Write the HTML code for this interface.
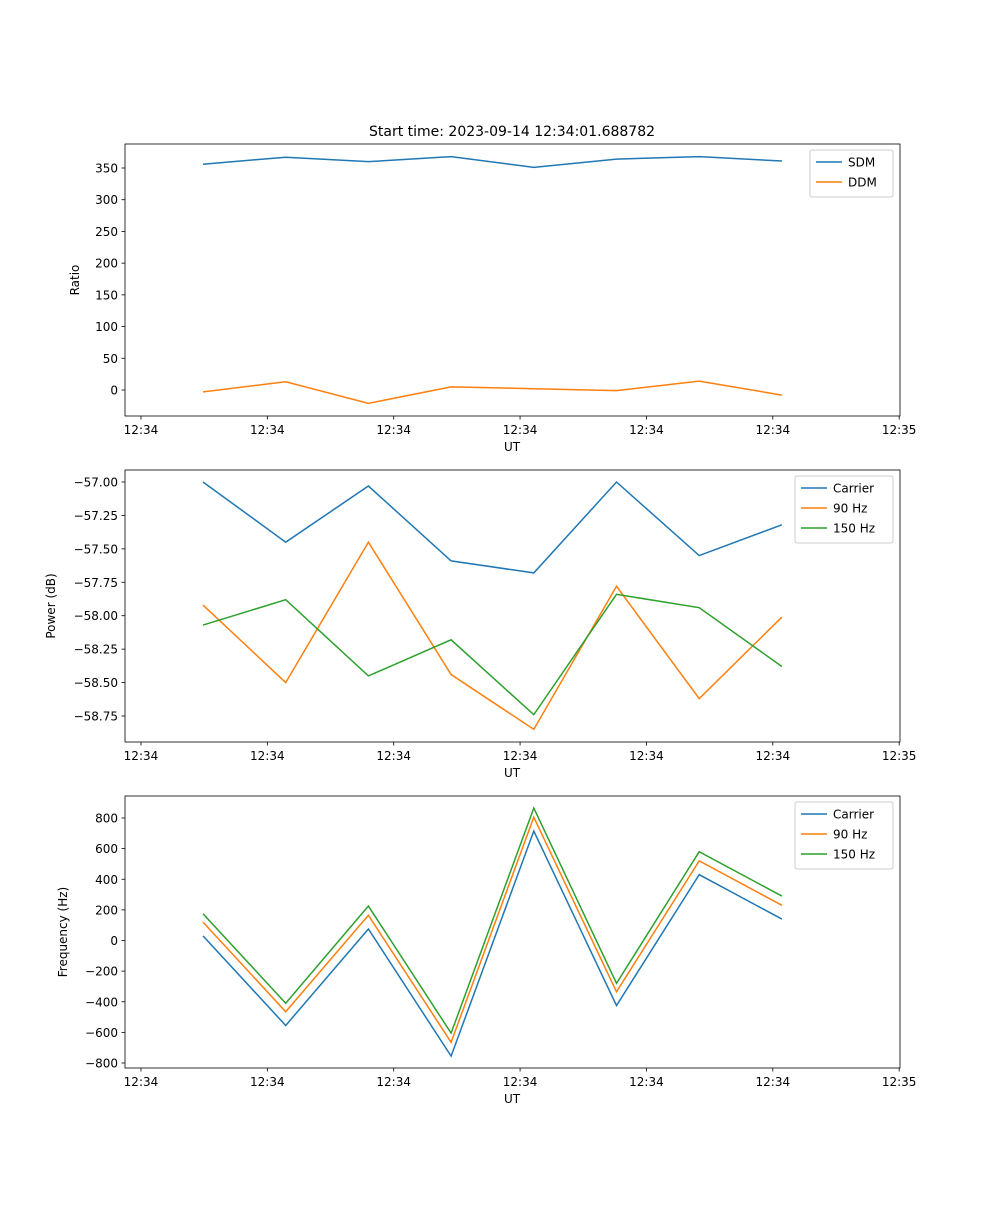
<!DOCTYPE html>
<html><head><meta charset="utf-8"><style>
body{margin:0;background:#fff;font-family:"Liberation Sans","DejaVu Sans",sans-serif}
svg text{font-family:"DejaVu Sans","Liberation Sans",sans-serif}
</style></head><body>
<svg id="fig" width="1000" height="1200" xmlns="http://www.w3.org/2000/svg">
<rect width="1000" height="1200" fill="#fff"/>
<text x="512" y="136" font-size="14" text-anchor="middle">Start time: 2023-09-14 12:34:01.688782</text>
</svg>
<script>
const xTickIdx=[-0.75,0.778,2.306,3.834,5.362,6.89,8.418];
const xTickLabels=["12:34","12:34","12:34","12:34","12:34","12:34","12:35"];
const sdm=[356,367,360,368,351,364,368,361];
const ddm=[-3,13,-21,5,2,-1,14,-8];
const pCarrier=[-57.00,-57.45,-57.03,-57.59,-57.68,-57.00,-57.55,-57.32];
const p90=[-57.92,-58.50,-57.45,-58.44,-58.85,-57.78,-58.62,-58.01];
const p150=[-58.07,-57.88,-58.45,-58.18,-58.74,-57.84,-57.94,-58.38];
const fCarrier=[30,-555,75,-755,715,-425,430,140];
const f90=[120,-465,165,-665,805,-335,520,230];
const f150=[175,-410,225,-605,865,-280,580,290];
const ratioTicks=[0,50,100,150,200,250,300,350];
const powerTicks=[-57.00,-57.25,-57.50,-57.75,-58.00,-58.25,-58.50,-58.75];
const freqTicks=[-800,-600,-400,-200,0,200,400,600,800];
const C=["#1f77b4","#ff7f0e","#2ca02c"];
const svg=document.getElementById('fig');
const NS="http://www.w3.org/2000/svg";
function mk(t,a,p){const e=document.createElementNS(NS,t);for(const k in a)e.setAttribute(k,a[k]);(p||svg).appendChild(e);return e;}
const xs=i=>203+i*82.7;
function panel(name,top,bot,v0,p0,v1,p1,ticks,fmt,ylabel,series,names,legW){
 const g=mk('g',{});
 
 
 const ys=v=>p0+(v-v0)*(p1-p0)/(v1-v0);
 series.forEach((s,k)=>{
  const pl=mk('polyline',{points:s.map((v,i)=>xs(i)+','+ys(v)).join(' '),fill:'none',stroke:C[k],'stroke-width':1.5},g);
  
  
 });
 const fr=mk('rect',{x:125,y:top,width:775,height:bot-top,fill:'none',stroke:'#000','stroke-width':0.8},g);
 
 
 xTickIdx.forEach((t,j)=>{const x=xs(t);
  mk('line',{x1:x,x2:x,y1:bot,y2:bot+3.5,stroke:'#000','stroke-width':0.8},g);
  const tx=mk('text',{x:x,y:bot+18,'font-size':12,'text-anchor':'middle'},g);tx.textContent=xTickLabels[j];
  
  });
 ticks.forEach(v=>{const y=ys(v);
  mk('line',{x1:121.5,x2:125,y1:y,y2:y,stroke:'#000','stroke-width':0.8},g);
  const tx=mk('text',{x:118,y:y+4.5,'font-size':12,'text-anchor':'end'},g);tx.textContent=fmt(v);
  
  });
 const xl=mk('text',{x:512,y:bot+35,'font-size':12,'text-anchor':'middle'},g);xl.textContent='UT';
 
 
 const cy=(top+bot)/2;
 const yl=mk('text',{x:0,y:0,'font-size':12,'text-anchor':'middle',transform:`translate(${name==='ratio'?79:name==='power'?55:67},${cy}) rotate(-90)`},g);yl.textContent=ylabel;
 
 
 const lx=893-legW,ly=top+6,h=names.length*20+7;
 const lg=mk('g',{},g);
 
 
 mk('rect',{x:lx,y:ly,width:legW,height:h,rx:2,fill:'#fff','fill-opacity':0.8,stroke:'#ccc'},lg);
 names.forEach((n,k)=>{const y=ly+12+k*20;
  mk('line',{x1:lx+6,x2:lx+32,y1:y,y2:y,stroke:C[k],'stroke-width':1.5},lg);
  const t=mk('text',{x:lx+38,y:y+4.5,'font-size':12},lg);t.textContent=n;
  
  });
}
panel('ratio',144,416,0,390,350,168,ratioTicks,v=>String(v),'Ratio',[sdm,ddm],['SDM','DDM'],83);
panel('power',470,742,-57,482,-58.75,716,powerTicks,v=>'\u2212'+Math.abs(v).toFixed(2),'Power (dB)',[pCarrier,p90,p150],['Carrier','90 Hz','150 Hz'],98);
panel('freq',796,1068,0,940.5,800,818,freqTicks,v=>(v<0?'\u2212':'')+Math.abs(v),'Frequency (Hz)',[fCarrier,f90,f150],['Carrier','90 Hz','150 Hz'],98);
</script>
</body></html>
